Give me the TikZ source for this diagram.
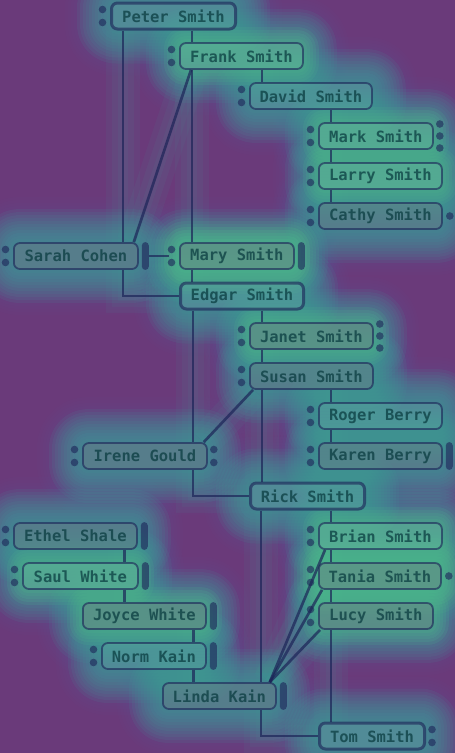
\documentclass[tikz,border=0pt]{standalone}
\usepackage{fontspec}
\newfontfamily\treefont{DejaVu Sans Mono}
\usetikzlibrary{calc}

\definecolor{heatbase}{HTML}{6A3A7A}
\definecolor{heatblue}{HTML}{55609E}
\definecolor{heatglow}{HTML}{3EA59B}
\definecolor{heathot}{HTML}{58C48A}
\definecolor{ink}{HTML}{1C2458}
\definecolor{textink}{HTML}{083A3E}
\definecolor{femalefill}{HTML}{7A7282}

\pgfdeclarelayer{bg}
\pgfdeclarelayer{glow}
\pgfdeclarelayer{links}
\pgfsetlayers{bg,glow,links,main}

\tikzset{
  person/.style={draw=ink, draw opacity=0.62, line width=1.8pt, rounded corners=6pt,
    minimum height=26pt, inner xsep=0pt, inner ysep=0pt, anchor=west,
    font=\treefont\bfseries\fontsize{15.5}{16}\selectfont, text=textink, text opacity=0.72},
  male/.style={person, fill=white, fill opacity=0.07},
  female/.style={person, fill=femalefill, fill opacity=0.34},
  mainline/.style={line width=3pt},
  link/.style={draw=ink, draw opacity=0.7, line width=2.7pt},
  linkglow/.style={draw=heatglow, draw opacity=0.07, line width=34pt,
    preaction={draw=heatglow, draw opacity=0.07, line width=22pt},
    preaction={draw=heatglow, draw opacity=0.07, line width=10pt}},
  marker/.style={fill=ink, fill opacity=0.6},
}

% small decorations beside the name boxes
\newcommand\tdots[1]{\fill[marker] ($(#1.west)+(-7.5,-6.5)$) circle[radius=3.8pt]
  ($(#1.west)+(-7.5,6.5)$) circle[radius=3.8pt];}
\newcommand\tdotsthree[1]{\fill[marker] ($(#1.east)+(6,-12)$) circle[radius=3.8pt]
  ($(#1.east)+(6,0)$) circle[radius=3.8pt] ($(#1.east)+(6,12)$) circle[radius=3.8pt];}
\newcommand\tdotstwo[1]{\fill[marker] ($(#1.east)+(6,-6.5)$) circle[radius=3.8pt]
  ($(#1.east)+(6,6.5)$) circle[radius=3.8pt];}
\newcommand\tdotone[1]{\fill[marker] ($(#1.east)+(7,0)$) circle[radius=3.8pt];}
\newcommand\tbar[1]{\fill[marker, rounded corners=3.5pt] ($(#1.north east)+(3,0)$)
  rectangle ($(#1.south east)+(10,0)$);}

% soft halo around one name box: #2 colour, #3 reach, #4 opacity per ring
\newcommand\halo[4]{%
  \foreach \d in {0,3,...,#3}{%
    \pgfmathsetmacro\rc{\d+6}%
    \fill[#2, fill opacity=#4, rounded corners=\rc pt]
      ($(#1.north west)+(-\d,-\d)$) rectangle ($(#1.south east)+(\d,\d)$);}}

\begin{document}
\begin{tikzpicture}[x=1pt,y=-1pt]
\useasboundingbox (0,0) rectangle (455,753);
\begin{pgfonlayer}{bg}
  \fill[heatbase] (0,0) rectangle (455,753);
\end{pgfonlayer}

% name boxes
\node[male, mainline, minimum width=124pt] (peter) at (110,16) {Peter Smith};
\node[male, minimum width=123pt] (frank) at (179,56) {Frank Smith};
\node[male, minimum width=122pt] (david) at (249,96) {David Smith};
\node[male, minimum width=114pt] (mark) at (318,136) {Mark Smith};
\node[male, minimum width=123pt] (larry) at (318,176) {Larry Smith};
\node[female, minimum width=123pt] (cathy) at (318,216) {Cathy Smith};
\node[female, minimum width=124pt] (sarah) at (13,256) {Sarah Cohen};
\node[female, minimum width=114pt] (mary) at (179,256) {Mary Smith};
\node[male, mainline, minimum width=123pt] (edgar) at (179,296) {Edgar Smith};
\node[female, minimum width=123pt] (janet) at (249,336) {Janet Smith};
\node[female, minimum width=123pt] (susan) at (249,376) {Susan Smith};
\node[male, minimum width=123pt] (roger) at (318,416) {Roger Berry};
\node[female, minimum width=123pt] (karen) at (318,456) {Karen Berry};
\node[female, minimum width=124pt] (irene) at (82,456) {Irene Gould};
\node[male, mainline, minimum width=114pt] (rick) at (249,496) {Rick Smith};
\node[female, minimum width=123pt] (ethel) at (13,536) {Ethel Shale};
\node[male, minimum width=123pt] (brian) at (318,536) {Brian Smith};
\node[male, minimum width=115pt] (saul) at (22,576) {Saul White};
\node[female, minimum width=122pt] (tania) at (318,576) {Tania Smith};
\node[female, minimum width=123pt] (joyce) at (82,616) {Joyce White};
\node[female, minimum width=114pt] (lucy) at (318,616) {Lucy Smith};
\node[male, minimum width=104pt] (norm) at (101,656) {Norm Kain};
\node[female, minimum width=113pt] (linda) at (162,696) {Linda Kain};
\node[male, mainline, minimum width=105pt] (tom) at (318,736) {Tom Smith};

% markers
\foreach \n in {peter,frank,david,mark,larry,cathy,sarah,mary,janet,susan,roger,
  karen,irene,ethel,saul,brian,tania,lucy,norm}{\tdots{\n}}
\tdotsthree{mark}
\tdotsthree{janet}
\tdotone{cathy}
\tdotone{tania}
\tdotstwo{irene}
\tdotstwo{tom}
\foreach \n in {sarah,mary,karen,ethel,saul,joyce,norm,linda}{\tbar{\n}}

% connectors
\coordinate (cP) at ($(peter.south west)+(13,0)$);
\coordinate (cF) at ($(frank.north west)+(13,0)$);
\coordinate (cD) at ($(david.north west)+(13,0)$);
\coordinate (cM) at ($(mark.north west)+(13,0)$);
\coordinate (cE) at ($(edgar.south west)+(14,0)$);
\coordinate (cK) at ($(rick.south west)+(12,0)$);
\coordinate (cS) at ($(ethel.south east)+(-13,0)$);
\coordinate (cN) at ($(joyce.south east)+(-13,0)$);
\coordinate (lt) at ($(linda.north east)+(-7,0)$);

\newcommand\connectors{%
  \draw[link] (cF |- peter.south) -- (cF);
  \draw[link] (cP) -- (cP |- sarah.north);
  \draw[link] (cD |- frank.south) -- (cD);
  \draw[link] (cF |- frank.south) -- (cF |- mary.north);
  \draw[link] ($(frank.south west)+(12,0)$) -- ($(sarah.north east)+(-5,0)$);
  \draw[link] (cM |- david.south) -- (cM);
  \draw[link] (cM |- mark.south) -- (cM |- larry.north);
  \draw[link] (cM |- larry.south) -- (cM |- cathy.north);
  \draw[link] ([xshift=10pt]sarah.east) -- ([xshift=-10pt]mary.west);
  \draw[link] (cP |- sarah.south) |- (edgar.west);
  \draw[link] (cF |- mary.south) -- (cF |- edgar.north);
  \draw[link] (cD |- edgar.south) -- (cD |- janet.north);
  \draw[link] (cD |- janet.south) -- (cD |- susan.north);
  \draw[link] (cD |- susan.south) -- (cD |- rick.north);
  \draw[link] (cE) -- (cE |- irene.north);
  \draw[link] (cE |- irene.south) |- (rick.west);
  \draw[link] ($(susan.south west)+(4,0)$) -- ($(irene.north east)+(-4,0)$);
  \draw[link] (cM |- susan.south) -- (cM |- roger.north);
  \draw[link] (cM |- roger.south) -- (cM |- karen.north);
  \draw[link] (cM |- rick.south) -- (cM |- brian.north);
  \draw[link] (cM |- brian.south) -- (cM |- tania.north);
  \draw[link] (cM |- tania.south) -- (cM |- lucy.north);
  \draw[link] (cM |- lucy.south) -- (cM |- tom.north);
  \draw[link] (cK) -- (cK |- linda.north);
  \draw[link] (cK |- linda.south) |- (tom.west);
  \draw[link] (lt) -- ($(brian.south west)+(7,0)$);
  \draw[link] (lt) -- ($(tania.south west)+(4,0)$);
  \draw[link] (lt) -- ($(lucy.south west)+(2,0)$);
  \draw[link] (cS) -- (cS |- saul.north);
  \draw[link] (cS |- saul.south) -- (cS |- joyce.north);
  \draw[link] (cN) -- (cN |- norm.north);
  \draw[link] (cN |- norm.south) -- (cN |- linda.north);}

% halos
\begin{pgfonlayer}{glow}
  \foreach \n in {peter,frank,david,mark,larry,cathy,sarah,mary,edgar,janet,susan,
    roger,karen,irene,rick,ethel,brian,saul,tania,joyce,lucy,norm,linda,tom}{%
    \halo{\n}{heatblue}{45}{0.045}}
  \foreach \n in {peter,frank,david,mark,larry,cathy,sarah,mary,edgar,janet,susan,
    roger,karen,irene,rick,ethel,brian,saul,tania,joyce,lucy,norm,linda,tom}{%
    \halo{\n}{heatglow}{33}{0.09}}
  \begin{scope}[link/.style={linkglow}]
    \connectors
  \end{scope}
  \foreach \n in {mary,frank,larry,mark,janet,tania,lucy,brian,saul,joyce}{%
    \halo{\n}{heathot}{15}{0.09}}
  \halo{mary}{heathot}{24}{0.06}
  \halo{tania}{heathot}{24}{0.06}
\end{pgfonlayer}

\begin{pgfonlayer}{links}
  \connectors
\end{pgfonlayer}
\end{tikzpicture}
\end{document}
